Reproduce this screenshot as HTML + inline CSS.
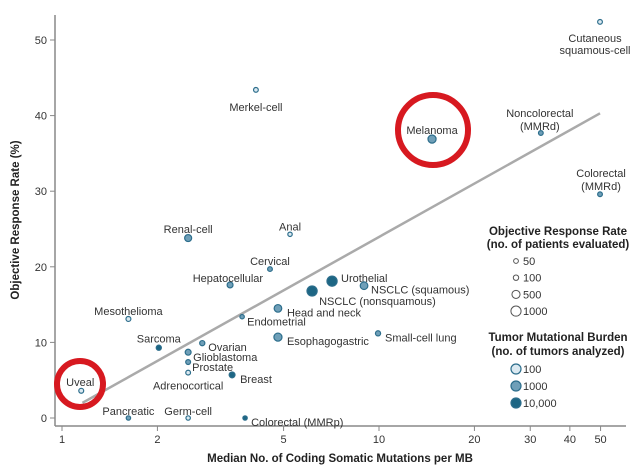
<!DOCTYPE html>
<html><head><meta charset="utf-8"><style>
html,body{margin:0;padding:0;background:#fff;}
svg{display:block;font-family:"Liberation Sans","DejaVu Sans",sans-serif;}
.lbl{font-size:11px;fill:#333;}
.tick{font-size:11px;fill:#333;}
.ttl{font-size:11.5px;font-weight:bold;fill:#222;}
</style></head><body>
<svg id="chart" width="640" height="471" viewBox="0 0 640 471"></svg>
<script>
const names=["Cutaneous squamous-cell","Merkel-cell","Melanoma","Noncolorectal (MMRd)","Colorectal (MMRd)","Renal-cell","Anal","Cervical","Hepatocellular","Urothelial","NSCLC (nonsquamous)","NSCLC (squamous)","Head and neck","Endometrial","Mesothelioma","Esophagogastric","Small-cell lung","Sarcoma","Ovarian","Glioblastoma","Prostate","Adrenocortical","Breast","Uveal","Pancreatic","Germ-cell","Colorectal (MMRp)"];
const mutations=[49.8,4.09,14.7,32.4,49.8,2.5,5.24,4.53,3.39,7.11,6.15,8.97,4.8,3.7,1.62,4.8,9.93,2.02,2.77,2.5,2.5,2.5,3.44,1.15,1.62,2.5,3.78];
const responseRate=[52.4,43.4,36.9,37.7,29.6,23.8,24.3,19.7,17.6,18.1,16.8,17.5,14.5,13.4,13.1,10.7,11.2,9.3,9.9,8.7,7.4,6.0,5.7,3.6,0,0,0];
const patients=[50,50,500,50,50,300,30,50,150,1000,1000,400,400,30,60,500,80,80,80,150,60,50,150,60,30,30,30];
const tumorsLevel=[0,0,1,1,1,1,0,1,1,2,2,1,1,1,0,1,1,2,1,1,1,0,2,0,1,0,2];
const xTicks=[1,2,5,10,20,30,40,50];
const yTicks=[0,10,20,30,40,50];
const trendX=[1.16,49.8];
const trendY=[2.0,40.3];
const legendPatients=[50,100,500,1000];
const legendTumors=["100","1000","10,000"];

const labelPos=[["middle",-5,[16,28]],["middle",0,[17]],["middle",0,[-9]],["middle",-1,[-20,-7]],["middle",1,[-21,-8]],["middle",0,[-9]],["middle",0,[-8]],["middle",0,[-8]],["end",33,[-7]],["start",9,[-3]],["start",7,[10]],["start",7,[4]],["start",9,[4]],["start",5,[5]],["middle",0,[-8]],["start",9,[4]],["start",7,[4]],["middle",0,[-9]],["start",6,[4]],["start",5,[5]],["start",4,[5]],["middle",0,[13]],["start",8,[4]],["middle",-1,[-9]],["middle",0,[-7]],["middle",0,[-7]],["start",6,[4]]];
const multiLines={0:["Cutaneous","squamous-cell"],3:["Noncolorectal","(MMRd)"],4:["Colorectal","(MMRd)"]};

const svg=document.getElementById('chart');
const NS="http://www.w3.org/2000/svg";
const X0=62,DEC=317,Y0=418,YU=7.56;
const xs=v=>X0+Math.log10(v)*DEC;
const ys=v=>Y0-v*YU;
const rOf=n=>1.6+Math.sqrt(n)*0.11;
const fills=["#dbe9f1","#6f9fb8","#1d6684"];
function mk(t,a,p){const e=document.createElementNS(NS,t);for(const k in a)e.setAttribute(k,a[k]);(p||svg).appendChild(e);return e;}

const ax=mk('g',{});


mk('line',{x1:55,y1:15,x2:55,y2:426,stroke:'#888','stroke-width':1.5},ax);
mk('line',{x1:55,y1:426,x2:626,y2:426,stroke:'#888','stroke-width':1.5},ax);
yTicks.forEach(v=>{
  mk('line',{x1:50,y1:ys(v),x2:55,y2:ys(v),stroke:'#888'},ax);
  const t=mk('text',{x:47,y:ys(v)+4,'text-anchor':'end',class:'tick'},ax);t.textContent=v;
  
  
});
xTicks.forEach(v=>{
  mk('line',{x1:xs(v),y1:426,x2:xs(v),y2:431,stroke:'#888'},ax);
  const t=mk('text',{x:xs(v),y:443,'text-anchor':'middle',class:'tick'},ax);t.textContent=v;
  
  
});
let t=mk('text',{x:340,y:462,'text-anchor':'middle',class:'ttl'});t.textContent="Median No. of  Coding Somatic Mutations per MB";


t=mk('text',{x:0,y:0,'text-anchor':'middle',class:'ttl',transform:'translate(19,220) rotate(-90)'});t.textContent="Objective Response Rate (%)";



const tl=mk('line',{x1:xs(trendX[0]),y1:ys(trendY[0]),x2:xs(trendX[1]),y2:ys(trendY[1]),stroke:'#aaa','stroke-width':2.5});



const h1=mk('circle',{cx:433,cy:130,r:35,fill:'none',stroke:'#d71920','stroke-width':6});


const h2=mk('circle',{cx:80,cy:384,r:23,fill:'none',stroke:'#d71920','stroke-width':6});



names.forEach((n,i)=>{
  const g=mk('g',{});
  
  
  const cx=xs(mutations[i]),cy=ys(responseRate[i]);
  mk('circle',{cx:cx,cy:cy,r:rOf(patients[i]),fill:fills[tumorsLevel[i]],stroke:'#2d6e8c','stroke-width':1.2},g);
  const lp=labelPos[i];const lines=multiLines[i]||[n];
  lines.forEach((s,k)=>{
    const tx=mk('text',{x:cx+lp[1],y:cy+lp[2][k]+4,'text-anchor':lp[0],class:'lbl'},g);tx.textContent=s;
    
    
  });
});

const lg=mk('g',{});


[["Objective Response Rate",235],["(no. of patients evaluated)",248],["Tumor Mutational Burden",341],["(no. of tumors analyzed)",355]].forEach(a=>{
  const e=mk('text',{x:558,y:a[1],'text-anchor':'middle',class:'ttl','font-size':'11px'},lg);e.textContent=a[0];
  
  
});
legendPatients.forEach((v,i)=>{
  const y=261+i*16.7;
  const ge=mk('g',{},lg);
  
  
  mk('circle',{cx:516,cy:y,r:rOf(v),fill:'#fff',stroke:'#555','stroke-width':1},ge);
  const e=mk('text',{x:523,y:y+4,class:'lbl'},ge);e.textContent=v;
});
legendTumors.forEach((v,i)=>{
  const y=369+i*17;
  const ge=mk('g',{},lg);
  
  
  mk('circle',{cx:516,cy:y,r:5,fill:fills[i],stroke:'#2d6e8c','stroke-width':1.2},ge);
  const e=mk('text',{x:523,y:y+4,class:'lbl'},ge);e.textContent=v;
});
</script>
</body></html>
